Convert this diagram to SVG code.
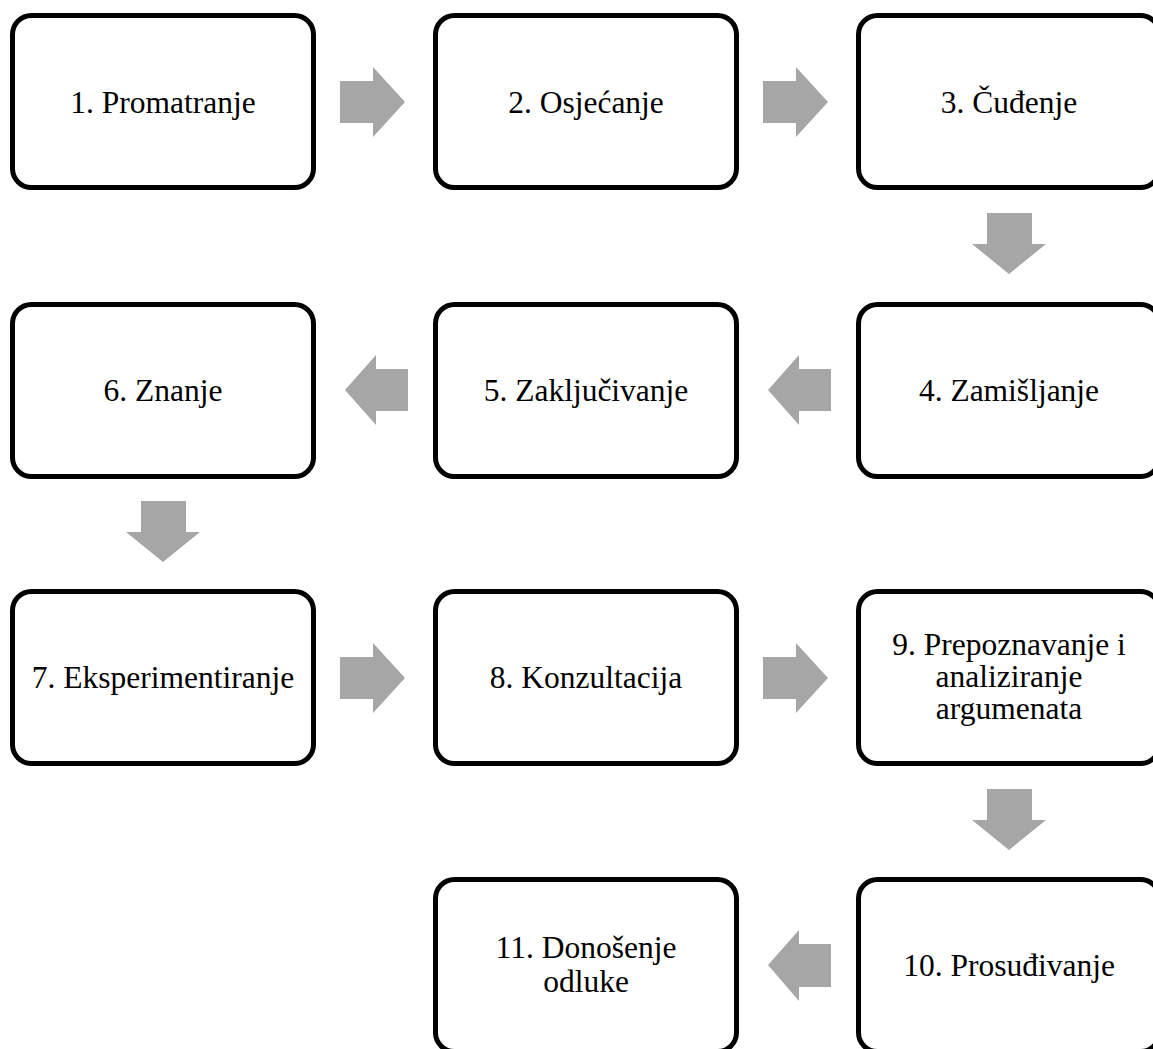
<svg xmlns="http://www.w3.org/2000/svg" width="1153" height="1049" viewBox="0 0 1153 1049">
<style>
.box{fill:#fff;stroke:#000;stroke-width:5}
.lbl{font-family:"Liberation Serif","Times New Roman",serif;font-size:31.5px;fill:#000;text-anchor:middle}
.arr{fill:#a6a6a6;stroke:none}
</style>
<rect width="1153" height="1049" fill="#fff"/>
<g id="connectors">
<polygon class="arr" points="340,81 373,81 373,67 405,102 373,137 373,123 340,123"/>
<polygon class="arr" points="763,81 796,81 796,67 828,102 796,137 796,123 763,123"/>
<polygon class="arr" points="987,213 1032,213 1032,244 1046,244 1009,274 972,244 987,244"/>
<polygon class="arr" points="831,369 799,369 799,355 768,390 799,425 799,411 831,411"/>
<polygon class="arr" points="408,369 376,369 376,355 345,390 376,425 376,411 408,411"/>
<polygon class="arr" points="141,501 186,501 186,532 200,532 163,562 126,532 141,532"/>
<polygon class="arr" points="340,657 373,657 373,643 405,678 373,713 373,699 340,699"/>
<polygon class="arr" points="763,657 796,657 796,643 828,678 796,713 796,699 763,699"/>
<polygon class="arr" points="987,789 1032,789 1032,820 1046,820 1009,850 972,820 987,820"/>
<polygon class="arr" points="831,944 799,944 799,930 768,965 799,1001 799,987 831,987"/>
</g>
<g id="n1"><rect class="box" x="12.5" y="15.5" width="301" height="172" rx="19"/><text class="lbl" x="163" y="112.5">1. Promatranje</text></g>
<g id="n2"><rect class="box" x="435.5" y="15.5" width="301" height="172" rx="19"/><text class="lbl" x="586" y="112.5">2. Osjećanje</text></g>
<g id="n3"><rect class="box" x="858.5" y="15.5" width="301" height="172" rx="19"/><text class="lbl" x="1009" y="112.5">3. Čuđenje</text></g>
<g id="n4"><rect class="box" x="858.5" y="304.5" width="301" height="172" rx="19"/><text class="lbl" x="1009" y="401">4. Zamišljanje</text></g>
<g id="n5"><rect class="box" x="435.5" y="304.5" width="301" height="172" rx="19"/><text class="lbl" x="586" y="401">5. Zaključivanje</text></g>
<g id="n6"><rect class="box" x="12.5" y="304.5" width="301" height="172" rx="19"/><text class="lbl" x="163" y="401">6. Znanje</text></g>
<g id="n7"><rect class="box" x="12.5" y="591.5" width="301" height="172" rx="19"/><text class="lbl" x="163" y="688">7. Eksperimentiranje</text></g>
<g id="n8"><rect class="box" x="435.5" y="591.5" width="301" height="172" rx="19"/><text class="lbl" x="586" y="688">8. Konzultacija</text></g>
<g id="n9"><rect class="box" x="858.5" y="591.5" width="301" height="172" rx="19"/><text class="lbl" x="1009" y="655">9. Prepoznavanje i</text><text class="lbl" x="1009" y="687">analiziranje</text><text class="lbl" x="1009" y="719">argumenata</text></g>
<g id="n10"><rect class="box" x="858.5" y="879.5" width="301" height="172" rx="19"/><text class="lbl" x="1009" y="976">10. Prosuđivanje</text></g>
<g id="n11"><rect class="box" x="435.5" y="879.5" width="301" height="172" rx="19"/><text class="lbl" x="586" y="958">11. Donošenje</text><text class="lbl" x="586" y="992">odluke</text></g>
</svg>
